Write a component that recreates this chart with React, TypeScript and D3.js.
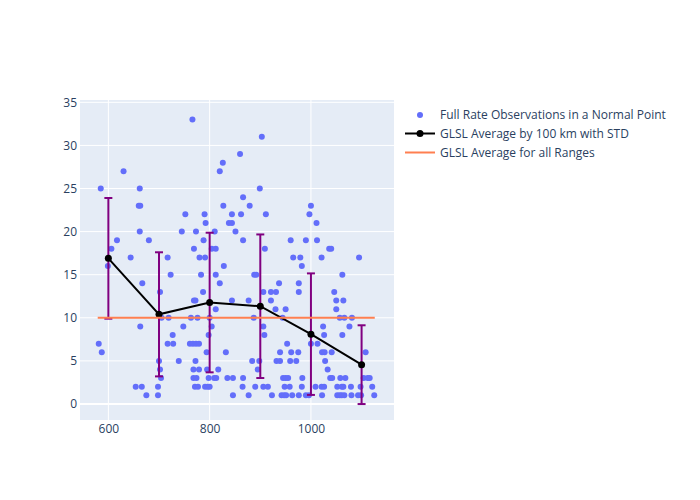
import React, { useEffect, useRef } from "react";
import { select, scaleLinear, axisBottom, axisLeft, line } from "d3";

// observations: range (km) and full rate count, listed by count row
const obsRange = [
  766, 903, 860, 826, 630, 820, 585, 662, 899, 866,
  660, 663, 827, 879, 1000,
  752, 790, 844, 862, 911, 997,
  792, 838, 844, 1011,
  662, 745, 773, 810, 851,
  617, 680, 788, 866, 960, 990, 1012,
  606, 769, 804, 812, 909, 1036, 1040,
  644, 717, 780, 791, 965, 979, 1021, 1095,
  599, 828, 982,
  723, 783, 812, 888, 892, 1062,
  667, 820, 937, 976,
  702, 787, 906, 921, 931, 976, 1046,
  769, 772, 844, 877, 921, 1050, 1064,
  812, 930, 950, 1050,
  705, 719, 763, 776, 800, 887, 944, 1057, 1066, 1081,
  663, 748, 804, 906, 1024, 1076,
  727, 798, 908, 1026, 1062,
  581, 717, 728, 761, 767, 773, 779, 953, 1000, 1013,
  587, 794, 832, 939, 961, 975, 1022, 1027, 1041, 1108,
  700, 739, 772, 884, 898, 932, 939, 959, 971, 1028,
  702, 768, 779, 795, 817, 895, 1033,
  704, 768, 774, 798, 809, 813, 835, 846, 866, 945, 950, 955, 983, 1038, 1042, 1058, 1068, 1104, 1112, 1116,
  654, 666, 698, 771, 777, 791, 796, 800, 865, 890, 906, 915, 948, 958, 982, 1009, 1021, 1026, 1052, 1061, 1064, 1079, 1098, 1121,
  675, 698, 846, 877, 923, 942, 947, 951, 963, 976, 990, 996, 1022, 1052, 1057, 1061, 1066, 1080, 1093, 1099, 1125,
];
const obsCount = [
  33, 31, 29, 28, 27, 27, 25, 25, 25, 24,
  23, 23, 23, 23, 23,
  22, 22, 22, 22, 22, 22,
  21, 21, 21, 21,
  20, 20, 20, 20, 20,
  19, 19, 19, 19, 19, 19, 19,
  18, 18, 18, 18, 18, 18, 18,
  17, 17, 17, 17, 17, 17, 17, 17,
  16, 16, 16,
  15, 15, 15, 15, 15, 15,
  14, 14, 14, 14,
  13, 13, 13, 13, 13, 13, 13,
  12, 12, 12, 12, 12, 12, 12,
  11, 11, 11, 11,
  10, 10, 10, 10, 10, 10, 10, 10, 10, 10,
  9, 9, 9, 9, 9, 9,
  8, 8, 8, 8, 8,
  7, 7, 7, 7, 7, 7, 7, 7, 7, 7,
  6, 6, 6, 6, 6, 6, 6, 6, 6, 6,
  5, 5, 5, 5, 5, 5, 5, 5, 5, 5,
  4, 4, 4, 4, 4, 4, 4,
  3, 3, 3, 3, 3, 3, 3, 3, 3, 3, 3, 3, 3, 3, 3, 3, 3, 3, 3, 3,
  2, 2, 2, 2, 2, 2, 2, 2, 2, 2, 2, 2, 2, 2, 2, 2, 2, 2, 2, 2, 2, 2, 2, 2,
  1, 1, 1, 1, 1, 1, 1, 1, 1, 1, 1, 1, 1, 1, 1, 1, 1, 1, 1, 1, 1,
];

// averages by 100 km bin
const binRange = [600, 700, 800, 900, 1000, 1100];
const binMean = [16.9, 10.4, 11.77, 11.34, 8.1, 4.56];
const binStd = [7.0, 7.2, 8.1, 8.33, 7.05, 4.57];

const overallMean = 10.0;
const overallSpan = [579, 1126];

const yTicks = [0, 5, 10, 15, 20, 25, 30, 35];
const xTicks = [600, 800, 1000];

const legendLabels = [
  "Full Rate Observations in a Normal Point",
  "GLSL Average by 100 km with STD",
  "GLSL Average for all Ranges",
];

const W = 700, H = 500;
const M = { left: 80, right: 394, top: 100, bottom: 420 };
const FONT = "'Open Sans', 'Noto Sans', sans-serif";
const TXT = "#2a3f5f";

export default function App() {
  const svgRef = useRef<SVGSVGElement>(null);

  useEffect(() => {
    const svg = select(svgRef.current);
    svg.selectAll("*").remove();

    const x = scaleLinear().domain([544, 1164]).range([M.left, M.right]);
    const y = scaleLinear().domain([-1.86, 35.27]).range([M.bottom, M.top]);

    // plot background
    svg.append("rect")
      .attr("x", M.left).attr("y", M.top)
      .attr("width", M.right - M.left).attr("height", M.bottom - M.top)
      .attr("fill", "#E5ECF6");

    // grid
    const grid = svg.append("g");
    grid.selectAll(".gy").data(yTicks).join("line")
      .attr("x1", M.left).attr("x2", M.right)
      .attr("y1", d => y(d)).attr("y2", d => y(d))
      .attr("stroke", "white").attr("stroke-width", d => (d === 0 ? 2 : 1));
    grid.selectAll(".gx").data(xTicks).join("line")
      .attr("y1", M.top).attr("y2", M.bottom)
      .attr("x1", d => x(d)).attr("x2", d => x(d))
      .attr("stroke", "white").attr("stroke-width", 1);

    // axes
    const yAxis = axisLeft(y).tickValues(yTicks).tickSize(0).tickPadding(3);
    svg.append("g")
      .attr("transform", `translate(${M.left},0)`)
      .call(yAxis)
      .call(g => g.select(".domain").remove())
      .selectAll("text").attr("font-size", 12).attr("font-family", FONT).attr("fill", TXT);

    const xAxis = axisBottom(x).tickValues(xTicks).tickFormat(d => String(d)).tickSize(0).tickPadding(4);
    svg.append("g")
      .attr("transform", `translate(0,${M.bottom})`)
      .call(xAxis)
      .call(g => g.select(".domain").remove())
      .selectAll("text").attr("font-size", 12).attr("font-family", FONT).attr("fill", TXT);

    // observations
    svg.append("g").selectAll("circle")
      .data(obsRange.map((r, i) => [r, obsCount[i]]))
      .join("circle")
      .attr("cx", d => x(d[0])).attr("cy", d => y(d[1]))
      .attr("r", 3)
      .attr("fill", "#636efa");

    // error bars
    const eb = svg.append("g").attr("stroke", "#800080").attr("stroke-width", 2);
    binRange.forEach((r, i) => {
      const lo = y(binMean[i] - binStd[i]);
      const hi = y(binMean[i] + binStd[i]);
      eb.append("line").attr("x1", x(r)).attr("x2", x(r)).attr("y1", lo).attr("y2", hi);
      eb.append("line").attr("x1", x(r) - 4).attr("x2", x(r) + 4).attr("y1", lo).attr("y2", lo);
      eb.append("line").attr("x1", x(r) - 4).attr("x2", x(r) + 4).attr("y1", hi).attr("y2", hi);
    });

    // average line
    const avgLine = line<number>()
      .x((d, i) => x(binRange[i]))
      .y(d => y(d));
    svg.append("path")
      .attr("d", avgLine(binMean))
      .attr("fill", "none").attr("stroke", "black").attr("stroke-width", 2);
    svg.append("g").selectAll("circle")
      .data(binMean)
      .join("circle")
      .attr("cx", (d, i) => x(binRange[i])).attr("cy", d => y(d))
      .attr("r", 3.5).attr("fill", "black");

    // overall average
    svg.append("line")
      .attr("x1", x(overallSpan[0])).attr("x2", x(overallSpan[1]))
      .attr("y1", y(overallMean)).attr("y2", y(overallMean))
      .attr("stroke", "#FF7F50").attr("stroke-width", 2);

    // legend
    const lg = svg.append("g");
    const rowY = [115, 133.5, 152.5];
    lg.append("circle").attr("cx", 420).attr("cy", rowY[0]).attr("r", 3).attr("fill", "#636efa");
    lg.append("line").attr("x1", 405).attr("x2", 435).attr("y1", rowY[1]).attr("y2", rowY[1])
      .attr("stroke", "black").attr("stroke-width", 2);
    lg.append("circle").attr("cx", 420).attr("cy", rowY[1]).attr("r", 3.5).attr("fill", "black");
    lg.append("line").attr("x1", 405).attr("x2", 435).attr("y1", rowY[2]).attr("y2", rowY[2])
      .attr("stroke", "#FF7F50").attr("stroke-width", 2);
    lg.selectAll("text").data(legendLabels).join("text")
      .attr("x", 440).attr("y", (d, i) => rowY[i])
      .attr("dy", "0.35em")
      .attr("font-size", 12).attr("font-family", FONT).attr("fill", TXT)
      .text(d => d);
  }, []);

  return (
    <svg
      ref={svgRef}
      width={W}
      height={H}
      style={{ position: "absolute", left: 0, top: 0, background: "white" }}
    />
  );
}
